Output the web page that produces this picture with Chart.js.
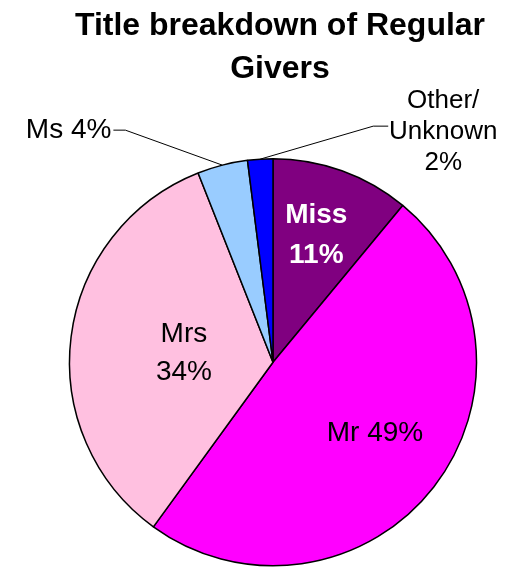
<!DOCTYPE html>
<html>
<head>
<meta charset="utf-8">
<script src="https://cdn.jsdelivr.net/npm/chart.js@4"></script>
<style>
html,body{margin:0;padding:0;background:#fff;}
#wrap{width:506px;height:567px;position:relative;}
</style>
</head>
<body>
<div id="wrap"><canvas id="c"></canvas></div>
<script>
const titleLines = ["Title breakdown of Regular", "Givers"];
const categories = ["Miss", "Mr", "Mrs", "Ms", "Other/Unknown"];
const values = [11, 49, 34, 4, 2];
const labelLines = [["Miss", "11%"], ["Mr 49%"], ["Mrs", "34%"], ["Ms 4%"], ["Other/", "Unknown", "2%"]];
const colors = ["#800080", "#FF00FF", "#FFC0E0", "#99CCFF", "#0000FF"];

// label style/placement: inside labels use radius fraction; outside use leader lines
const labelCfg = [
  {inside: true, r: 0.66, da: -1, font: "bold 28px 'Liberation Sans', Arial, sans-serif", color: "#fff", lh: 40},
  {inside: true, r: 0.61, da: -3, font: "28px 'Liberation Sans', Arial, sans-serif", color: "#000", lh: 38},
  {inside: true, r: 0.44, da: -1.5, font: "28px 'Liberation Sans', Arial, sans-serif", color: "#000", lh: 38},
  {inside: false, elbow: [-97, -35], end: -12, align: "right", tx: -2, ty: 0, font: "28px 'Liberation Sans', Arial, sans-serif", color: "#000", lh: 31},
  {inside: false, elbow: [113, -33], end: 15, align: "center", tx: 55, ty: -25, font: "26px 'Liberation Sans', Arial, sans-serif", color: "#000", lh: 31}
];

const overlay = {
  id: "overlay",
  afterDraw(chart) {
    const ctx = chart.ctx;
    ctx.save();
    // title
    ctx.fillStyle = "#000";
    ctx.textAlign = "center";
    ctx.textBaseline = "alphabetic";
    ctx.font = "bold 32px 'Liberation Sans', Arial, sans-serif";
    ctx.fillText(titleLines[0], 280, 35);
    ctx.fillText(titleLines[1], 280, 78);

    const meta = chart.getDatasetMeta(0);
    meta.data.forEach((arc, i) => {
      const cfg = labelCfg[i];
      const p = arc.getProps(["x", "y", "startAngle", "endAngle", "outerRadius"], true);
      const mid = (p.startAngle + p.endAngle) / 2 + (cfg.da || 0) * Math.PI / 180;
      const lines = labelLines[i];
      ctx.font = cfg.font;
      ctx.fillStyle = cfg.color;
      ctx.textBaseline = "middle";
      if (cfg.inside) {
        const cx = p.x + Math.cos(mid) * p.outerRadius * cfg.r;
        const cy = p.y + Math.sin(mid) * p.outerRadius * cfg.r;
        ctx.textAlign = "center";
        const n = lines.length;
        lines.forEach((t, k) => {
          ctx.fillText(t, cx, cy + (k - (n - 1) / 2) * cfg.lh);
        });
      } else {
        const sx = p.x + Math.cos(mid) * p.outerRadius;
        const sy = p.y + Math.sin(mid) * p.outerRadius;
        const ex = sx + cfg.elbow[0], ey = sy + cfg.elbow[1];
        const fx = ex + cfg.end;
        ctx.strokeStyle = "#000";
        ctx.lineWidth = 1;
        ctx.beginPath();
        ctx.moveTo(sx, sy);
        ctx.lineTo(ex, ey);
        ctx.lineTo(fx, ey);
        ctx.stroke();
        ctx.textAlign = cfg.align;
        const n = lines.length;
        const tx = fx + cfg.tx;
        const ty = ey + cfg.ty;
        lines.forEach((t, k) => {
          const yy = cfg.align === "center" ? ty + k * cfg.lh : ty + (k - (n - 1) / 2) * cfg.lh;
          ctx.fillText(t, tx, yy);
        });
      }
    });
    ctx.restore();
  }
};

new Chart(document.getElementById("c"), {
  type: "pie",
  data: {
    labels: categories,
    datasets: [{
      data: values,
      backgroundColor: colors,
      borderColor: "#000",
      borderWidth: 1.5
    }]
  },
  options: {
    responsive: true,
    maintainAspectRatio: false,
    animation: false,
    layout: {padding: {top: 158, bottom: 0.5, left: 40, right: 0}},
    plugins: {legend: {display: false}, tooltip: {enabled: false}, title: {display: false}}
  },
  plugins: [overlay]
});
</script>
</body>
</html>
